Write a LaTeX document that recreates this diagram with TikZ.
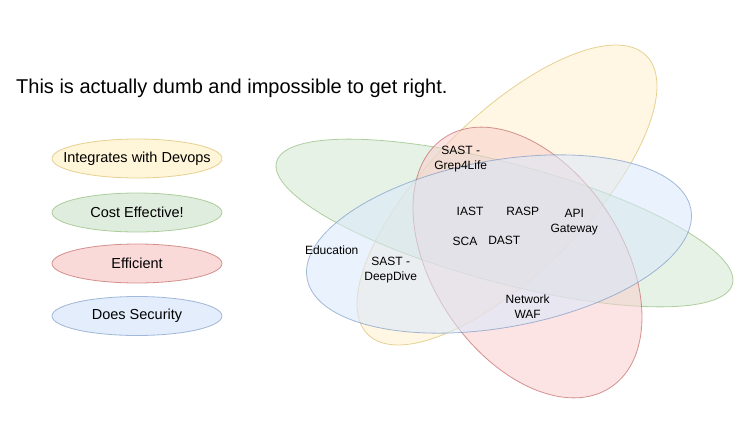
\documentclass[tikz,border=0pt]{standalone}
\usepackage{fontspec}
\setmainfont{Liberation Sans}
\usetikzlibrary{shapes.geometric}
\definecolor{yfill}{HTML}{FFF2CC}\definecolor{ydraw}{HTML}{D6B656}
\definecolor{gfill}{HTML}{D5E8D4}\definecolor{gdraw}{HTML}{82B366}
\definecolor{rfill}{HTML}{F8CECC}\definecolor{rdraw}{HTML}{B85450}
\definecolor{bfill}{HTML}{DAE8FC}\definecolor{bdraw}{HTML}{6C8EBF}
\tikzset{
  legend/.style={ellipse, minimum width=170pt, minimum height=39pt, inner sep=0pt,
    font=\fontsize{14.5}{17}\selectfont, line width=0.8pt, fill opacity=0.75, draw opacity=0.6, text opacity=1},
  venn/.style={ellipse, inner sep=0pt, line width=0.8pt, fill opacity=0.55, draw opacity=0.6},
  lbl/.style={align=center, inner sep=0pt, font=\fontsize{12}{14.5}\selectfont},
}
\begin{document}
\begin{tikzpicture}[x=1pt,y=-1pt]
\useasboundingbox[fill=white] (0,0) rectangle (748,440);
\node[anchor=base west, inner sep=0pt, font=\fontsize{20}{24}\selectfont] (title) at (16,93.5) {This is actually dumb and impossible to get right.};
% legend
\node[legend, fill=yfill, draw=ydraw] (lyel) at (137,158.5) {\makebox[0pt]{Integrates with Devops}};
\node[legend, fill=gfill, draw=gdraw] (lgrn) at (137,212.5) {\makebox[0pt]{Cost Effective!}};
\node[legend, fill=rfill, draw=rdraw] (lred) at (137,263.5) {\makebox[0pt]{Efficient}};
\node[legend, fill=bfill, draw=bdraw] (lblu) at (137,316) {\makebox[0pt]{Does Security}};
% venn
\node[venn, fill=yfill, draw=ydraw, minimum width=394pt, minimum height=157pt, rotate=45] (vyel) at (507,195) {};
\node[venn, fill=gfill, draw=gdraw, minimum width=472pt, minimum height=119pt, rotate=-15] (vgrn) at (504.5,223) {};
\node[venn, fill=rfill, draw=rdraw, minimum width=300pt, minimum height=189pt, rotate=-56.3] (vred) at (527.5,262.5) {};
\node[venn, fill=bfill, draw=bdraw, minimum width=390pt, minimum height=167pt, rotate=10.2] (vblu) at (499,244) {};
% labels
\node[lbl] (grep) at (460.7,159) {SAST -\\Grep4Life};
\node[lbl] (iast) at (470,211.7) {IAST};
\node[lbl] (rasp) at (522.7,211.7) {RASP};
\node[lbl] (api) at (574.3,222) {API\\Gateway};
\node[lbl] (sca) at (465,241) {SCA};
\node[lbl] (dast) at (504.3,240) {DAST};
\node[lbl] (edu) at (331.7,250.7) {Education};
\node[lbl] (deep) at (390.7,270) {SAST -\\DeepDive};
\node[lbl] (waf) at (527.7,306.7) {Network\\WAF};
\end{tikzpicture}
\end{document}
